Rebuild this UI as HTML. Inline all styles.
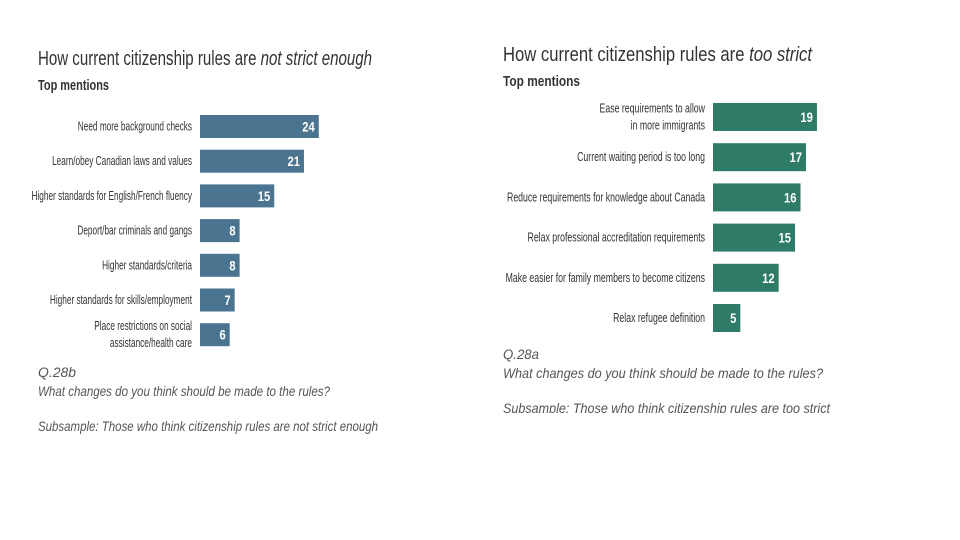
<!DOCTYPE html>
<html><head><meta charset="utf-8"><style>
body{margin:0;background:#fff;}
svg{display:block;font-family:"Liberation Sans Narrow","Liberation Sans",sans-serif;}
</style></head><body>
<svg id="c" width="960" height="540">
<defs><clipPath id="rc"><rect x="480" y="0" width="480" height="413"/></clipPath></defs>
<g>
<text x="38" y="65" font-size="20" fill="#333" textLength="334" lengthAdjust="spacingAndGlyphs">How current citizenship rules are <tspan font-style="italic">not strict enough</tspan></text>
<text x="38" y="90" font-size="15" font-weight="bold" fill="#333" textLength="71" lengthAdjust="spacingAndGlyphs">Top mentions</text>
<g id="lb"></g>
<g font-style="italic" font-size="14" fill="#555">
<text x="38" y="377" textLength="38" lengthAdjust="spacingAndGlyphs">Q.28b</text>
<text x="38" y="396" textLength="292" lengthAdjust="spacingAndGlyphs">What changes do you think should be made to the rules?</text>
<text x="38" y="431" textLength="340" lengthAdjust="spacingAndGlyphs">Subsample: Those who think citizenship rules are not strict enough</text>
</g>
</g>
<g clip-path="url(#rc)">
<text x="503" y="61" font-size="20" fill="#333" textLength="309" lengthAdjust="spacingAndGlyphs">How current citizenship rules are <tspan font-style="italic">too strict</tspan></text>
<text x="503" y="86" font-size="15" font-weight="bold" fill="#333" textLength="77" lengthAdjust="spacingAndGlyphs">Top mentions</text>
<g id="rb"></g>
<g font-style="italic" font-size="14" fill="#555">
<text x="503" y="359" textLength="36" lengthAdjust="spacingAndGlyphs">Q.28a</text>
<text x="503" y="378" textLength="320" lengthAdjust="spacingAndGlyphs">What changes do you think should be made to the rules?</text>
<text x="503" y="413" textLength="327" lengthAdjust="spacingAndGlyphs">Subsample: Those who think citizenship rules are too strict</text>
</g>
</g>
</svg>
<script>
const leftCategories=[["Need more background checks"],["Learn/obey Canadian laws and values"],["Higher standards for English/French fluency"],["Deport/bar criminals and gangs"],["Higher standards/criteria"],["Higher standards for skills/employment"],["Place restrictions on social","assistance/health care"]];
const leftValues=[24,21,15,8,8,7,6];
const rightCategories=[["Ease requirements to allow","in more immigrants"],["Current waiting period is too long"],["Reduce requirements for knowledge about Canada"],["Relax professional accreditation requirements"],["Make easier for family members to become citizens"],["Relax refugee definition"]];
const rightValues=[19,17,16,15,12,5];
const NS="http://www.w3.org/2000/svg";
function draw(gid,cats,vals,x0,scale,y0,pitch,h,color,side,shrink){
  const g=document.getElementById(gid);
  const xs=v=>v*scale;
  const ys=i=>y0+i*pitch;
  cats.forEach((lines,i)=>{
    const r=document.createElementNS(NS,"rect");
    r.setAttribute("x",x0);r.setAttribute("y",ys(i));
    r.setAttribute("width",xs(vals[i]));r.setAttribute("height",h);
    r.setAttribute("fill",color);
    
    
    g.appendChild(r);
    const t=document.createElementNS(NS,"text");
    t.setAttribute("x",x0+xs(vals[i])-4);t.setAttribute("y",ys(i)+h/2+5);
    t.setAttribute("text-anchor","end");t.setAttribute("font-size","14");
    t.setAttribute("font-weight","bold");t.setAttribute("fill","#fff");
    t.textContent=vals[i];
    
    
    g.appendChild(t);
    const tw=t.getComputedTextLength();
    t.setAttribute("textLength",(tw*0.8).toFixed(1));
    t.setAttribute("lengthAdjust","spacingAndGlyphs");
    lines.forEach((ln,j)=>{
      const l=document.createElementNS(NS,"text");
      const cy=ys(i)+h/2+4+(j-(lines.length-1)/2)*17;
      l.setAttribute("x",x0-8);l.setAttribute("y",cy);
      l.setAttribute("text-anchor","end");l.setAttribute("font-size","12.5");
      l.setAttribute("fill","#333");
      l.textContent=ln;
      
      
      g.appendChild(l);
      const w=l.getComputedTextLength();
      l.setAttribute("textLength",(w*shrink).toFixed(1));
      l.setAttribute("lengthAdjust","spacingAndGlyphs");
    });
  });
}
draw("lb",leftCategories,leftValues,200,4.95,115,34.7,23,"#4a7490","left",0.66);
draw("rb",rightCategories,rightValues,713,5.47,103,40.2,28,"#2e7b68","right",0.70);
</script>
</body></html>
